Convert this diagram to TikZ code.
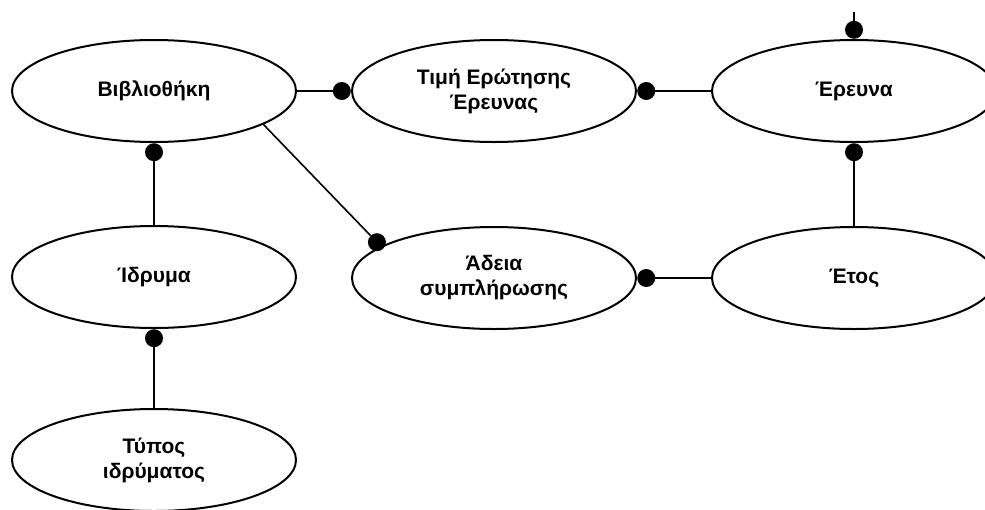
\documentclass[tikz,border=0pt]{standalone}
\usepackage{fontspec}
\setmainfont{Liberation Sans}
\usetikzlibrary{shapes.geometric,calc}
\begin{document}
\begin{tikzpicture}[x=1pt,y=-1pt,
  ent/.style={draw, ellipse, line width=2pt, minimum width=284pt, minimum height=102pt, inner sep=0pt, align=center, font=\fontsize{21}{25}\selectfont\bfseries},
  conn/.style={line width=1.6pt},
  blob/.style={circle, fill=black, minimum size=18pt, inner sep=0pt}]
\useasboundingbox (0,0) rectangle (985,509);
\node[ent] (lib) at (154,91) {Βιβλιοθήκη};
\node[ent] (timi) at (494,91) {Τιμή Ερώτησης\\Έρευνας};
\node[ent] (ereuna) at (854,91) {Έρευνα};
\node[ent] (idryma) at (154,277) {Ίδρυμα};
\node[ent] (adeia) at (494,278) {Άδεια\\συμπλήρωσης};
\node[ent] (etos) at (854,278) {Έτος};
\node[ent] (typos) at (154,460) {Τύπος\\ιδρύματος};
% dots
\node[blob, anchor=east] (d1) at (timi.west) {};
\node[blob, anchor=west] (d2) at (timi.east) {};
\node[blob, anchor=south] (d3) at (ereuna.north) {};
\node[blob, anchor=north] (d4) at (ereuna.south) {};
\node[blob, anchor=west] (d5) at (adeia.east) {};
\node[blob, anchor=north] (d6) at (lib.south) {};
\node[blob, anchor=north] (d7) at (idryma.south) {};
\node[blob] (d8) at ($(adeia.163)!-8pt!(adeia.center)$) {};
\coordinate (top) at ($(d3.center)+(0,-18)$);
% connectors
\draw[conn] (lib.east) -- (d1);
\draw[conn] (d2) -- (ereuna.west);
\draw[conn] (top) -- (d3);
\draw[conn] (d4) -- (etos.north);
\draw[conn] (d5) -- (etos.west);
\draw[conn] (d6) -- (idryma.north);
\draw[conn] (d7) -- (typos.north);
\draw[conn] (lib.-17) -- (d8);
\end{tikzpicture}
\end{document}
